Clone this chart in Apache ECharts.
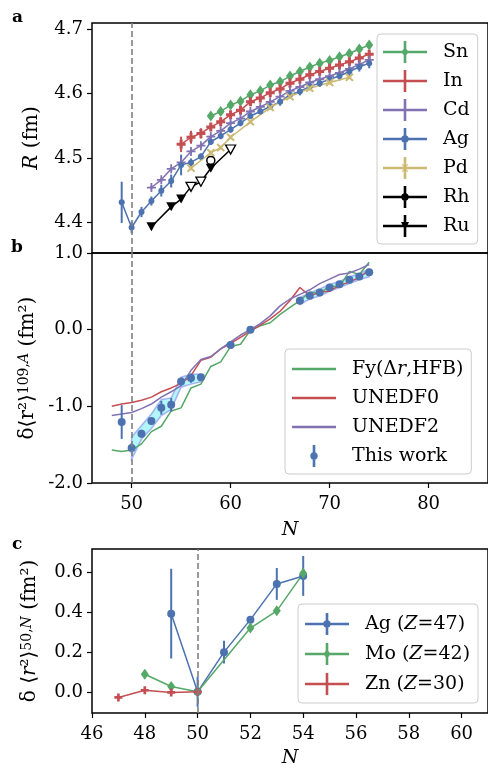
<!DOCTYPE html>
<html><head><meta charset="utf-8">
<script src="https://cdn.jsdelivr.net/npm/echarts@6/dist/echarts.min.js"></script>
<style>html,body{margin:0;padding:0;background:#fff}#c{width:488px;height:769px}</style>
</head><body><div id="c"></div>
<script>
// ---------------- tick labels ----------------
const abTicksN = [50, 60, 70, 80];
const aTicksR = [4.4, 4.5, 4.6, 4.7];
const bTicksD = [-2, -1, 0, 1];
const cTicksN = [46, 48, 50, 52, 54, 56, 58, 60];
const cTicksD = [0, 0.2, 0.4, 0.6];
const shellN = 50;

// ---------------- panel a: charge radii R (fm) ----------------
const snN = [58,59,60,61,62,63,64,65,66,67,68,69,70,71,72,73,74];
const snR = [4.565,4.572,4.582,4.588,4.598,4.604,4.613,4.618,4.627,4.634,4.641,4.647,4.651,4.657,4.662,4.669,4.675];
const snE = [0.003,0.003,0.003,0.003,0.003,0.003,0.003,0.003,0.003,0.003,0.003,0.003,0.003,0.003,0.003,0.003,0.003];

const inN = [55,56,57,58,59,60,61,62,63,64,65,66,67,68,69,70,71,72,73,74];
const inR = [4.521,4.532,4.538,4.548,4.556,4.567,4.574,4.587,4.593,4.601,4.607,4.616,4.622,4.629,4.634,4.639,4.644,4.649,4.655,4.661];
const inE = [0.012,0.010,0.008,0.006,0.005,0.005,0.005,0.005,0.005,0.005,0.005,0.005,0.005,0.005,0.005,0.005,0.005,0.005,0.005,0.005];

const cdN = [52,53,54,55,56,57,58,59,60,61,62,63,64,65,66,67,68,69,70,71,72,73,74];
const cdR = [4.454,4.466,4.483,4.493,4.510,4.519,4.533,4.542,4.554,4.561,4.572,4.579,4.587,4.595,4.604,4.610,4.617,4.622,4.627,4.632,4.638,4.645,4.652];
const cdE = [0.003,0.003,0.003,0.003,0.003,0.003,0.003,0.003,0.003,0.003,0.003,0.003,0.003,0.003,0.003,0.003,0.003,0.003,0.003,0.003,0.003,0.003,0.003];

const agN = [49,50,51,52,53,54,55,56,57,58,59,60,61,62,63,64,65,66,67,68,69,70,71,72,73,74];
const agR = [4.431,4.392,4.416,4.433,4.449,4.464,4.489,4.493,4.502,4.525,4.534,4.544,4.554,4.565,4.572,4.580,4.587,4.598,4.603,4.611,4.616,4.622,4.627,4.634,4.641,4.647];
const agE = [0.032,0.009,0.008,0.007,0.009,0.010,0.016,0.006,0.005,0.005,0.005,0.005,0.005,0.005,0.005,0.005,0.006,0.006,0.006,0.006,0.006,0.006,0.007,0.007,0.007,0.008];

const pdN = [56,58,59,60,62,64,66,68,70,72];
const pdR = [4.484,4.508,4.516,4.532,4.556,4.578,4.595,4.608,4.617,4.625];
const pdE = [0.003,0.003,0.003,0.003,0.003,0.003,0.003,0.003,0.003,0.003];

const rhN = [58];
const rhR = [4.496];
const rhE = [0.005];

const ruN = [52,54,55,56,57,58,60];
const ruR = [4.393,4.424,4.436,4.455,4.463,4.484,4.513];
const ruE = [0.004,0.004,0.004,0.004,0.004,0.004,0.004];
const ruOpen = [false,false,false,true,true,false,true];

// ---------------- panel b: delta <r^2>^{109,A} ----------------
const modelN = [48,49,50,51,52,53,54,55,56,57,58,59,60,61,62,63,64,65,66,67,68,69,70,71,72,73,74];
const fyHFB = [-1.57,-1.59,-1.57,-1.49,-1.33,-1.26,-1.06,-1.02,-0.76,-0.71,-0.48,-0.42,-0.22,-0.19,-0.01,0.05,0.09,0.20,0.29,0.38,0.49,0.47,0.57,0.56,0.76,0.72,0.88];
const unedf0 = [-1.00,-0.97,-0.95,-0.92,-0.88,-0.81,-0.76,-0.70,-0.60,-0.40,-0.36,-0.25,-0.18,-0.10,-0.02,0.06,0.14,0.24,0.38,0.55,0.44,0.49,0.50,0.58,0.62,0.68,0.78];
const unedf2 = [-1.12,-1.10,-1.08,-1.03,-0.97,-0.88,-0.81,-0.73,-0.53,-0.39,-0.35,-0.25,-0.16,-0.07,0.00,0.08,0.18,0.31,0.40,0.46,0.52,0.60,0.66,0.72,0.74,0.79,0.85];

const workN = [49,50,51,52,53,54,55,56,57,60,62,67,68,69,70,71,72,73,74];
const workD = [-1.205,-1.543,-1.356,-1.191,-1.018,-0.980,-0.676,-0.632,-0.620,-0.199,0.000,0.377,0.442,0.486,0.551,0.594,0.650,0.694,0.750];
const workE = [0.22,0.06,0.05,0.05,0.09,0.09,0.05,0.06,0.04,0.03,0.01,0.03,0.03,0.03,0.03,0.03,0.03,0.03,0.03];

const bandN  = [50,51,52,53,54,55,56,57, 67,68,69,70,71,72,73,74];
const bandHi = [-1.40,-1.25,-1.10,-0.91,-0.89,-0.62,-0.58,-0.58, 0.42,0.48,0.53,0.59,0.63,0.69,0.73,0.79];
const bandLo = [-1.69,-1.43,-1.29,-1.12,-1.04,-0.75,-0.71,-0.68, 0.33,0.40,0.44,0.50,0.55,0.60,0.65,0.69];

// ---------------- panel c: delta <r^2>^{50,N} ----------------
const agcN = [49,50,51,52,53,54];
const agcD = [0.392,0.000,0.199,0.362,0.541,0.581];
const agcE = [0.225,0.075,0.057,0.012,0.080,0.100];

const moN = [48,49,50,52,53,54];
const moD = [0.088,0.027,0.000,0.320,0.406,0.594];
const moE = [0.020,0.015,0.010,0.015,0.015,0.020];

const znN = [47,48,49,50];
const znD = [-0.028,0.008,-0.003,0.000];
const znE = [0.008,0.008,0.008,0.008];

// ---------------- styling ----------------
const FF = '"DejaVu Serif", "Liberation Serif", serif';
const COL = {blue:'#4C72B0', green:'#55A868', red:'#C44E52', purple:'#8172B2', yellow:'#CCB974', black:'#000000'};
const SYM = {
  plusFilled: 'path://M-1,-3L1,-3L1,-1L3,-1L3,1L1,1L1,3L-1,3L-1,1L-3,1L-3,-1L-1,-1Z',
  plusThin: 'path://M-0.6,-3L0.6,-3L0.6,-0.6L3,-0.6L3,0.6L0.6,0.6L0.6,3L-0.6,3L-0.6,0.6L-3,0.6L-3,-0.6L-0.6,-0.6Z'
};
// legend icons (44 x 22 box)
const IC_LINE = 'M0,9.7L44,9.7L44,12.3L0,12.3Z';
const IC_BAR = 'M20.7,0L23.3,0L23.3,22L20.7,22Z';
const IC_MK = {
  diamond: 'M22,6L25.5,11L22,16L18.5,11Z',
  circle: 'M18.3,11A3.7,3.7,0,1,1,25.7,11A3.7,3.7,0,1,1,18.3,11Z',
  plusFilled: 'M20.8,7L23.2,7L23.2,9.8L26,9.8L26,12.2L23.2,12.2L23.2,15L20.8,15L20.8,12.2L18,12.2L18,9.8L20.8,9.8Z',
  plusThin: 'M21.4,7L22.6,7L22.6,10.4L26,10.4L26,11.6L22.6,11.6L22.6,15L21.4,15L21.4,11.6L18,11.6L18,10.4L21.4,10.4Z',
  x: 'M18.8,7.8L19.6,7L22,9.4L24.4,7L25.2,7.8L22.8,10.2L22.8,11.8L25.2,14.2L24.4,15L22,12.6L19.6,15L18.8,14.2L21.2,11.8L21.2,10.2Z',
  tri: 'M18,7L26,7L22,15Z'
};
const icon = (mk) => 'path://' + IC_LINE + IC_BAR + IC_MK[mk];

const series = [];
function addErr(name, xi, yi, Ns, vals, errs, color, z) {
  series.push({
    name: name, type: 'custom', xAxisIndex: xi, yAxisIndex: yi, silent: true, z: z || 2,
    itemStyle: {color: color},
    data: Ns.map((n, i) => [n, vals[i], errs[i]]),
    encode: {x: 0, y: 1},
    renderItem: function (params, api) {
      const n = api.value(0), v = api.value(1), e = api.value(2);
      const a = api.coord([n, v - e]), b = api.coord([n, v + e]);
      return {type: 'line', shape: {x1: a[0], y1: a[1], x2: b[0], y2: b[1]},
              style: {stroke: color, lineWidth: 2}};
    }
  });
}
function addLine(name, xi, yi, Ns, vals, color, symbol, size, extra, dataStyle) {
  series.push(Object.assign({
    name: name, type: 'line', xAxisIndex: xi, yAxisIndex: yi, silent: true,
    data: Ns.map((n, i) => {
      const d = {value: [n, vals[i]]};
      if (dataStyle && dataStyle[i]) d.itemStyle = dataStyle[i];
      return d;
    }),
    symbol: symbol, symbolSize: size, showAllSymbol: true, symbolKeepAspect: true,
    lineStyle: {color: color, width: 1.5}, itemStyle: {color: color, opacity: 1}
  }, extra || {}));
}
const vline = {
  silent: true, symbol: 'none', label: {show: false},
  lineStyle: {color: '#808080', width: 1.6, type: [6, 3]},
  data: [{xAxis: shellN}]
};

// panel a
addErr('Sn', 0, 0, snN, snR, snE, COL.green);
addLine('Sn', 0, 0, snN, snR, COL.green, 'diamond', [8, 11]);
addErr('In', 0, 0, inN, inR, inE, COL.red);
addLine('In', 0, 0, inN, inR, COL.red, SYM.plusFilled, 9);
addErr('Cd', 0, 0, cdN, cdR, cdE, COL.purple);
addLine('Cd', 0, 0, cdN, cdR, COL.purple, SYM.plusThin, 9);
addErr('Ag', 0, 0, agN, agR, agE, COL.blue);
addLine('Ag', 0, 0, agN, agR, COL.blue, 'circle', 6, {markLine: vline});
addErr('Pd', 0, 0, pdN, pdR, pdE, COL.yellow);
addLine('Pd', 0, 0, pdN, pdR, COL.yellow, SYM.plusThin, 10, {symbolRotate: 45});
addErr('Rh', 0, 0, rhN, rhR, rhE, COL.black, 3);
addLine('Rh', 0, 0, rhN, rhR, COL.black, 'circle', 8, {itemStyle: {color: '#fff', borderColor: '#000', borderWidth: 1.5}});
addErr('Ru', 0, 0, ruN, ruR, ruE, COL.black);
addLine('Ru', 0, 0, ruN, ruR, COL.black, 'triangle', [10, 9], {symbolRotate: 180},
  ruOpen.map(o => o ? {color: '#fff', borderColor: '#000', borderWidth: 1.3} : null));

// panel b
function bandSegments() {
  const segs = []; let s = 0;
  for (let i = 1; i <= bandN.length; i++) {
    if (i === bandN.length || bandN[i] - bandN[i - 1] > 1) { segs.push([bandN[s], bandN[i - 1]]); s = i; }
  }
  return segs;
}
series.push({
  name: 'band', type: 'custom', xAxisIndex: 1, yAxisIndex: 1, silent: true, z: 1,
  data: bandSegments(), encode: {x: [0, 1]},
  renderItem: function (params, api) {
    const n0 = api.value(0), n1 = api.value(1);
    const idx = bandN.map((n, i) => i).filter(i => bandN[i] >= n0 && bandN[i] <= n1);
    const top = idx.map(i => api.coord([bandN[i], bandHi[i]]));
    const bot = idx.slice().reverse().map(i => api.coord([bandN[i], bandLo[i]]));
    return {type: 'polygon', shape: {points: top.concat(bot)},
            style: {fill: 'rgba(0,225,245,0.3)', stroke: 'rgba(110,110,235,0.5)', lineWidth: 1.5}};
  }
});
addLine('Fy(Δr,HFB)', 1, 1, modelN, fyHFB, COL.green, 'none', 0, {markLine: vline, z: 2});
addLine('UNEDF0', 1, 1, modelN, unedf0, COL.red, 'none', 0, {z: 2});
addLine('UNEDF2', 1, 1, modelN, unedf2, COL.purple, 'none', 0, {z: 2});
addErr('This work', 1, 1, workN, workD, workE, COL.blue, 3);
series.push({name: 'This work', type: 'scatter', xAxisIndex: 1, yAxisIndex: 1, silent: true, z: 3,
  symbol: 'circle', symbolSize: 8, itemStyle: {color: COL.blue, opacity: 1},
  data: workN.map((n, i) => [n, workD[i]])});

// panel c
addErr('Ag (Z=47)', 2, 2, agcN, agcD, agcE, COL.blue);
addLine('Ag (Z=47)', 2, 2, agcN, agcD, COL.blue, 'circle', 8, {markLine: vline});
addErr('Mo (Z=42)', 2, 2, moN, moD, moE, COL.green);
addLine('Mo (Z=42)', 2, 2, moN, moD, COL.green, 'diamond', [8, 11]);
addErr('Zn (Z=30)', 2, 2, znN, znD, znE, COL.red);
addLine('Zn (Z=30)', 2, 2, znN, znD, COL.red, SYM.plusFilled, 8);

// ---------------- axes ----------------
const tickStyle = {show: true, length: 5, lineStyle: {color: '#000', width: 1.2}};
const lblStyle = {color: '#000', fontSize: 18, fontFamily: FF};
function xAxisCfg(gi, min, max, ticks, name, showLabels, gap) {
  return {
    type: 'value', gridIndex: gi, min: min, max: max,
    axisLine: {show: false, onZero: false}, splitLine: {show: false},
    axisTick: showLabels ? Object.assign({customValues: ticks}, tickStyle) : {show: false},
    axisLabel: showLabels ? Object.assign({customValues: ticks, margin: 12, formatter: v => String(v)}, lblStyle) : {show: false},
    name: name, nameLocation: 'middle', nameGap: gap || 35,
    nameTextStyle: {color: '#000', fontSize: 19, fontFamily: FF, fontStyle: 'italic'}
  };
}
const nameRich = {
  i: {fontStyle: 'italic', fontSize: 20, fontFamily: FF, color: '#000'},
  sup: {fontSize: 14, fontFamily: FF, color: '#000', verticalAlign: 'top'},
  supi: {fontSize: 14, fontFamily: FF, color: '#000', fontStyle: 'italic', verticalAlign: 'top'}
};
function yAxisCfg(gi, min, max, ticks, name, gap) {
  return {
    type: 'value', gridIndex: gi, min: min, max: max,
    axisLine: {show: false, onZero: false}, splitLine: {show: false},
    axisTick: Object.assign({customValues: ticks}, tickStyle),
    axisLabel: Object.assign({customValues: ticks, margin: 9, formatter: v => v.toFixed(1)}, lblStyle),
    name: name, nameLocation: 'middle', nameRotate: 90, nameGap: gap,
    nameTextStyle: {color: '#000', fontSize: 20, fontFamily: FF, rich: nameRich}
  };
}

// ---------------- legends ----------------
const legendBox = {
  orient: 'vertical', itemWidth: 44, itemHeight: 22, selectedMode: false,
  backgroundColor: 'rgba(255,255,255,0.85)', borderColor: '#cccccc', borderWidth: 1, borderRadius: 4,
  textStyle: {color: '#000', fontSize: 19, lineHeight: 22, fontFamily: FF,
    rich: {s: {width: 11, lineHeight: 22}, i: {fontStyle: 'italic', fontSize: 19, lineHeight: 22, fontFamily: FF, color: '#000'}}}
};
const italicMap = {'Fy(Δr,HFB)': 'Fy(Δ{i|r},HFB)', 'Ag (Z=47)': 'Ag ({i|Z}=47)', 'Mo (Z=42)': 'Mo ({i|Z}=42)', 'Zn (Z=30)': 'Zn ({i|Z}=30)'};
const fmt = name => '{s|}' + (italicMap[name] || name);

const option = {
  animation: false,
  backgroundColor: '#ffffff',
  grid: [
    {left: 92, top: 23, width: 397, height: 230, show: true, borderColor: '#000', borderWidth: 1.5, backgroundColor: 'transparent'},
    {left: 92, top: 253, width: 397, height: 230, show: true, borderColor: '#000', borderWidth: 1.5, backgroundColor: 'transparent'},
    {left: 92, top: 549, width: 397, height: 165, show: true, borderColor: '#000', borderWidth: 1.5, backgroundColor: 'transparent'}
  ],
  xAxis: [
    xAxisCfg(0, 46, 86, abTicksN, '', false),
    xAxisCfg(1, 46, 86, abTicksN, 'N', true, 38),
    xAxisCfg(2, 46, 61, cTicksN, 'N', true, 36)
  ],
  yAxis: [
    yAxisCfg(0, 4.3524, 4.7093, aTicksR, '{i|R} (fm)', 50),
    yAxisCfg(1, -2, 1, bTicksD, 'δ⟨r²⟩{sup|109,}{supi|A} (fm²)', 50),
    yAxisCfg(2, -0.106, 0.716, cTicksD, 'δ ⟨{i|r}²⟩{sup|50,}{supi|N} (fm²)', 52)
  ],
  legend: [
    Object.assign({}, legendBox, {left: 377, top: 34, padding: [7, 8, 7, 6], itemGap: 7, formatter: fmt,
      data: [
        {name: 'Sn', icon: icon('diamond')}, {name: 'In', icon: icon('plusFilled')},
        {name: 'Cd', icon: icon('plusThin')}, {name: 'Ag', icon: icon('circle')},
        {name: 'Pd', icon: icon('x')}, {name: 'Rh', icon: icon('circle')}, {name: 'Ru', icon: icon('tri')}
      ]}),
    Object.assign({}, legendBox, {left: 285, top: 349, padding: [9, 8, 7, 7], itemGap: 7, formatter: fmt,
      data: [
        {name: 'Fy(Δr,HFB)', icon: 'path://' + IC_LINE}, {name: 'UNEDF0', icon: 'path://' + IC_LINE},
        {name: 'UNEDF2', icon: 'path://' + IC_LINE}, {name: 'This work', icon: 'path://' + IC_BAR + IC_MK.circle}
      ]}),
    Object.assign({}, legendBox, {left: 298, top: 604, padding: [9, 8, 8, 7], itemGap: 8, formatter: fmt,
      data: [
        {name: 'Ag (Z=47)', icon: icon('circle')}, {name: 'Mo (Z=42)', icon: icon('diamond')},
        {name: 'Zn (Z=30)', icon: icon('plusFilled')}
      ]})
  ],
  graphic: [
    {type: 'text', left: 12, top: 9, style: {text: 'a', fontSize: 17, fontWeight: 'bold', fontFamily: FF, fill: '#000'}},
    {type: 'text', left: 11, top: 239, style: {text: 'b', fontSize: 17, fontWeight: 'bold', fontFamily: FF, fill: '#000'}},
    {type: 'text', left: 12, top: 536, style: {text: 'c', fontSize: 17, fontWeight: 'bold', fontFamily: FF, fill: '#000'}}
  ],
  series: series
};

const chart = echarts.init(document.getElementById('c'), null, {renderer: 'canvas'});
chart.setOption(option);
</script></body></html>
